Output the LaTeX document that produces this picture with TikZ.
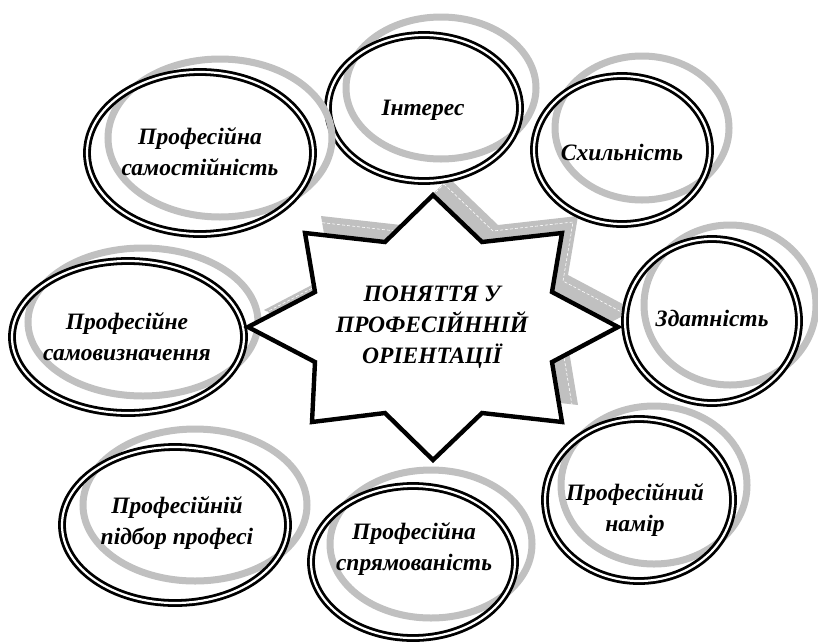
\documentclass[tikz,border=0pt]{standalone}
\usepackage{fontspec}
\setmainfont{Liberation Serif}
\begin{document}
\begin{tikzpicture}[x=1pt,y=-1pt,
  shadowring/.style={draw=ringgray,line width=7pt},
  blackring/.style={draw=black,line width=2.8pt,double=white,double distance=2.2pt},
  bubbletext/.style={align=center,inner sep=0pt,
    font=\fontsize{23.5}{31}\selectfont\bfseries\itshape},
  startext/.style={align=center,inner sep=0pt,
    font=\fontsize{23.5}{31}\selectfont\bfseries\itshape}]
\definecolor{ringgray}{RGB}{192,192,192}
\useasboundingbox (0,0) rectangle (818,643);
\fill[white] (0,0) rectangle (818,643);

% outline of the eight-pointed star (screen coordinates, y down)
\def\starpath{(433,195) -- (482,242) -- (562,233) -- (552,292) -- (618,327)
  -- (552,362) -- (562,422) -- (482,413) -- (433,460) -- (385,413)
  -- (312,422) -- (315,362) -- (248,327) -- (315,292) -- (305,233)
  -- (385,242) -- cycle}

% grey extruded shadow of the star
\fill[ringgray,shift={(16,-17)}] \starpath;
\draw[white,line width=0.6pt,dash pattern=on 3pt off 2pt,shift={(11,-11)}] \starpath;

% bubble: name, cx, cy, rx, ry, dx, dy, text position, text
\newcommand\bubble[9]{%
  \fill[white] (#2,#3) ellipse [x radius=#4, y radius=#5];
  \draw[shadowring,shift={(#6,#7)}] (#2,#3) ellipse [x radius=#4-5, y radius=#5-6];
  \draw[blackring] (#2,#3) ellipse [x radius=#4-4, y radius=#5-4];
  \node[bubbletext] (#1) at #8 {#9};}

\bubble{interes}{424}{108}{100}{77}{17}{-20}{(423,110)}{Інтерес}
\bubble{skhylnist}{622}{150}{92}{78}{20}{-22}{(622,152)}{Схильність}
\bubble{zdatnist}{712}{321}{91}{86}{18}{-16}{(712,318)}{Здатність}
\bubble{namir}{639}{500}{98}{85}{15}{-15}{(635,510)}{Професійний\\намір}
\bubble{spryam}{413}{562}{106}{80}{18}{-18}{(414,549)}{Професійна\\спрямованість}
\bubble{pidbir}{175}{525}{117}{82}{20}{-20}{(177,523)}{Професійній\\підбор професі}
\bubble{samovyzn}{128}{337}{120}{80}{15}{-15}{(127,337)}{Професійне\\самовизначення}
\bubble{samost}{200}{153}{117}{85}{20}{-15}{(200,152)}{Професійна\\самостійність}

% the star itself
\draw[black,fill=white,line width=4.4pt,miter limit=10] \starpath;
\node[startext] (centre) at (432,327) {ПОНЯТТЯ У\\ПРОФЕСІЙННІЙ\\ОРІЕНТАЦІЇ};
\end{tikzpicture}
\end{document}
